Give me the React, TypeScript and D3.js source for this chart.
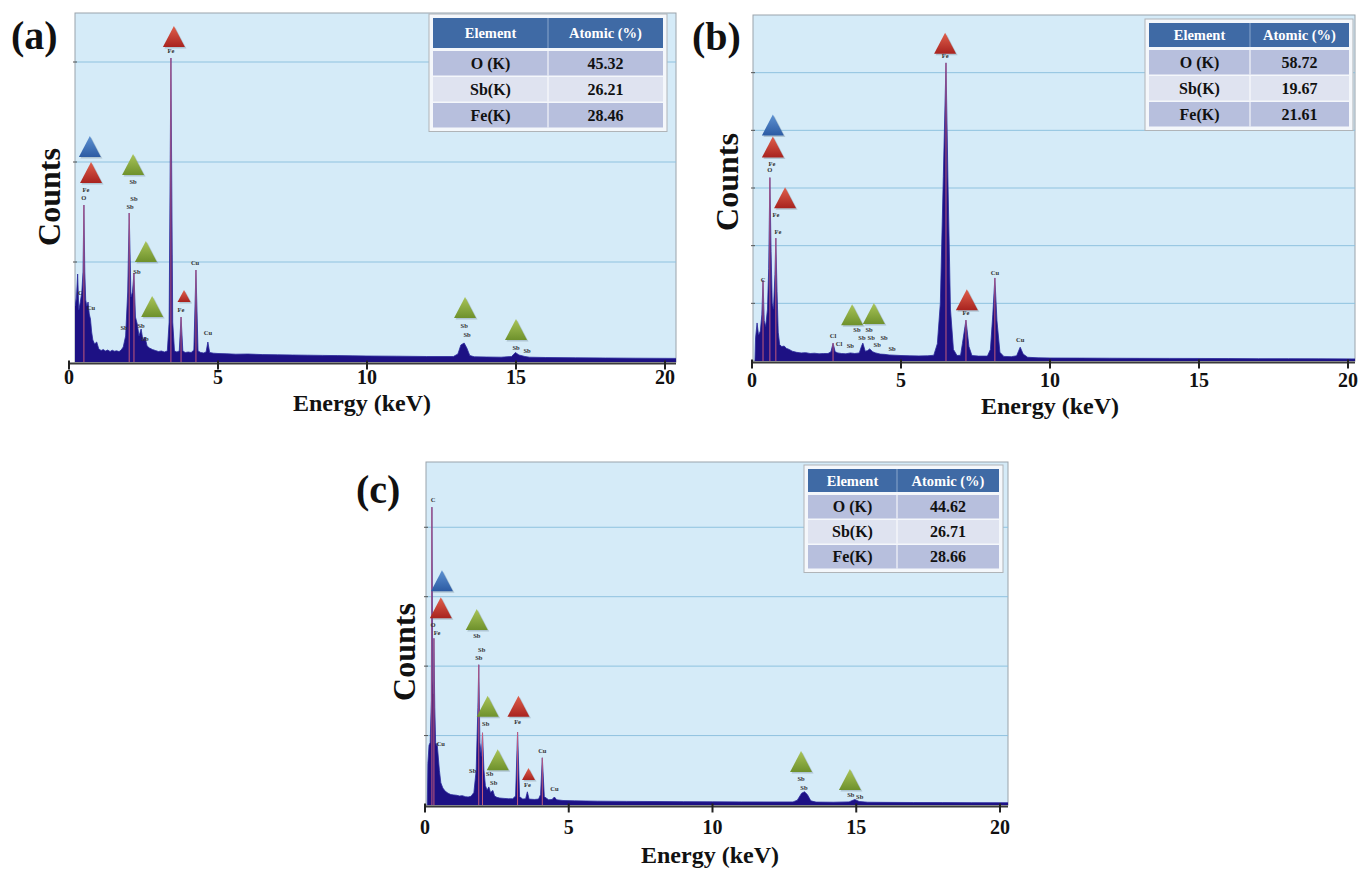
import React from "react";
import * as d3 from "d3";

// ---------------- DATA ----------------
const xTicks = [0, 5, 10, 15, 20];
const gridCountsA = [1000, 2000, 3000];
const gridCountsB = [1000, 2000, 3000, 4000, 5000];
const gridCountsC = [1000, 2000, 3000, 4000];

const tableHeaders = ["Element", "Atomic (%)"];
const elements = ["O (K)", "Sb(K)", "Fe(K)"];
const atomicA = [45.32, 26.21, 28.46];
const atomicB = [58.72, 19.67, 21.61];
const atomicC = [44.62, 26.71, 28.66];

// spectra: [energy keV, counts]
const specA: [number, number][] = [
  [0.12, 0], [0.14, 500], [0.18, 820], [0.21, 560], [0.25, 640], [0.29, 880], [0.33, 520], [0.38, 600], [0.43, 700], [0.47, 900],
  [0.5, 1570], [0.53, 900], [0.56, 620], [0.6, 560], [0.64, 600], [0.68, 480], [0.72, 430], [0.76, 300], [0.8, 220], [0.86, 180],
  [0.93, 200], [1.0, 130], [1.08, 115], [1.15, 125], [1.22, 110], [1.3, 120], [1.38, 105], [1.45, 118], [1.52, 108], [1.6, 112],
  [1.68, 104], [1.75, 120], [1.82, 150], [1.9, 260], [1.97, 700], [2.02, 1490], [2.08, 650], [2.13, 700], [2.18, 890], [2.23, 450],
  [2.29, 380], [2.35, 260], [2.42, 330], [2.48, 220], [2.55, 250], [2.62, 160], [2.7, 140], [2.8, 125], [2.9, 115], [3.0, 105],
  [3.1, 110], [3.2, 100], [3.3, 110], [3.36, 400], [3.42, 3040], [3.48, 400], [3.54, 110], [3.62, 100], [3.7, 110], [3.76, 450],
  [3.82, 110], [3.9, 95], [4.0, 100], [4.1, 95], [4.19, 120], [4.26, 920], [4.33, 110], [4.42, 95], [4.52, 90], [4.6, 100],
  [4.66, 200], [4.72, 95], [4.85, 88], [5.0, 85], [5.3, 82], [5.6, 78], [6.0, 80], [6.5, 74], [7.0, 72], [7.5, 70], [8.0, 68],
  [8.5, 66], [9.0, 64], [9.5, 62], [10, 60], [11, 58], [12, 55], [12.9, 55], [13.05, 80], [13.15, 170], [13.26, 190], [13.35, 140],
  [13.45, 65], [13.6, 52], [14, 50], [14.5, 48], [14.85, 55], [14.98, 95], [15.1, 70], [15.3, 55], [15.45, 48], [16, 45], [17, 42],
  [18, 40], [19, 38], [20.4, 36],
];

const specB: [number, number][] = [
  [0.1, 0], [0.12, 400], [0.17, 660], [0.22, 450], [0.28, 520], [0.33, 800], [0.37, 1400], [0.41, 700], [0.46, 600], [0.52, 900],
  [0.56, 1600], [0.6, 3180], [0.64, 1900], [0.68, 1000], [0.72, 900], [0.77, 1500], [0.8, 2130], [0.84, 1200], [0.88, 500], [0.93, 280],
  [1.0, 250], [1.08, 260], [1.15, 220], [1.25, 200], [1.35, 170], [1.5, 150], [1.65, 140], [1.8, 145], [1.95, 130], [2.1, 135],
  [2.25, 125], [2.4, 130], [2.55, 130], [2.65, 160], [2.72, 310], [2.79, 160], [2.88, 140], [3.0, 130], [3.15, 125], [3.3, 140],
  [3.45, 130], [3.6, 140], [3.67, 250], [3.72, 310], [3.8, 170], [3.88, 180], [3.95, 210], [4.05, 160], [4.15, 140], [4.3, 120],
  [4.45, 115], [4.6, 105], [4.8, 100], [5.0, 95], [5.3, 90], [5.6, 88], [5.9, 90], [6.1, 100], [6.22, 300], [6.32, 1000],
  [6.42, 3200], [6.51, 5170], [6.58, 3000], [6.66, 900], [6.76, 200], [6.88, 95], [7.0, 100], [7.06, 300], [7.18, 710], [7.28, 250],
  [7.38, 95], [7.6, 85], [7.9, 85], [8.0, 200], [8.08, 800], [8.15, 1440], [8.22, 700], [8.32, 150], [8.45, 80], [8.7, 75],
  [8.88, 90], [9.0, 240], [9.1, 120], [9.25, 65], [9.6, 55], [10, 52], [11, 50], [12, 48], [13, 46], [14, 45], [15, 44],
  [16, 42], [17, 40], [18, 40], [19, 38], [20.4, 36],
];

const specC: [number, number][] = [
  [0.08, 0], [0.1, 600], [0.14, 860], [0.18, 900], [0.22, 1500], [0.24, 4290], [0.27, 1800], [0.29, 1600], [0.31, 2400], [0.34, 1400],
  [0.37, 900], [0.4, 850], [0.42, 890], [0.45, 750], [0.5, 500], [0.55, 320], [0.62, 245], [0.7, 200], [0.8, 170], [0.9, 150],
  [1.0, 145], [1.1, 140], [1.2, 130], [1.3, 135], [1.4, 120], [1.5, 115], [1.6, 125], [1.7, 180], [1.78, 500], [1.84, 1400],
  [1.87, 2020], [1.91, 900], [1.96, 700], [2.0, 1040], [2.05, 500], [2.1, 280], [2.16, 215], [2.22, 260], [2.28, 180], [2.36, 210],
  [2.42, 130], [2.5, 110], [2.6, 100], [2.75, 95], [2.9, 90], [3.05, 90], [3.15, 130], [3.22, 1050], [3.29, 120], [3.4, 85],
  [3.5, 90], [3.56, 190], [3.62, 85], [3.8, 80], [3.95, 85], [4.02, 150], [4.08, 680], [4.15, 120], [4.3, 75], [4.42, 80],
  [4.5, 115], [4.58, 75], [4.8, 65], [5.2, 60], [6, 55], [7, 52], [8, 50], [9, 48], [10, 46], [11, 45], [12, 44], [12.8, 44],
  [12.95, 70], [13.1, 170], [13.2, 190], [13.3, 150], [13.42, 60], [13.6, 42], [14.2, 40], [14.75, 45], [14.95, 80], [15.1, 50],
  [15.4, 40], [16, 38], [17, 36], [18, 35], [19, 34], [20.4, 33],
];

// element marker lines (peak energies)
const markersA = [0.5, 2.02, 2.18, 3.42, 3.76, 4.26];
const markersB = [0.37, 0.6, 0.8, 2.72, 6.51, 7.18, 8.15];
const markersC = [0.24, 0.31, 1.87, 2.0, 3.22, 4.08];

// triangle markers: energy, counts at base, colour, small
type Tri = { e: number; c: number; col: "red" | "blue" | "green"; small?: boolean };
const trisA: Tri[] = [
  { e: 0.7, c: 2050, col: "blue" }, { e: 0.74, c: 1790, col: "red" }, { e: 2.15, c: 1870, col: "green" },
  { e: 2.58, c: 1000, col: "green" }, { e: 2.79, c: 450, col: "green" }, { e: 3.52, c: 3150, col: "red" },
  { e: 3.86, c: 600, col: "red", small: true }, { e: 13.29, c: 440, col: "green" }, { e: 15.0, c: 220, col: "green" },
];
const trisB: Tri[] = [
  { e: 0.7, c: 3910, col: "blue" }, { e: 0.7, c: 3530, col: "red" }, { e: 1.11, c: 2650, col: "red" },
  { e: 6.48, c: 5330, col: "red" }, { e: 7.21, c: 880, col: "red" }, { e: 3.36, c: 620, col: "green" },
  { e: 4.09, c: 640, col: "green" },
];
const trisC: Tri[] = [
  { e: 0.59, c: 3080, col: "blue" }, { e: 0.55, c: 2690, col: "red" }, { e: 1.8, c: 2520, col: "green" },
  { e: 2.18, c: 1270, col: "green" }, { e: 3.25, c: 1270, col: "red" }, { e: 2.53, c: 500, col: "green" },
  { e: 3.6, c: 360, col: "red", small: true }, { e: 13.08, c: 475, col: "green" }, { e: 14.78, c: 215, col: "green" },
];

// small peak labels: energy, counts, text
type Lab = { e: number; c: number; t: string };
const labsA: Lab[] = [
  { e: 0.57, c: 1700, t: "Fe" }, { e: 0.5, c: 1620, t: "O" }, { e: 0.38, c: 670, t: "C" }, { e: 0.74, c: 520, t: "Cu" },
  { e: 2.15, c: 1780, t: "Sb" }, { e: 2.18, c: 1610, t: "Sb" }, { e: 2.05, c: 1530, t: "Sb" }, { e: 2.28, c: 880, t: "Sb" },
  { e: 1.85, c: 320, t: "Sb" }, { e: 2.42, c: 340, t: "Sb" }, { e: 2.55, c: 210, t: "Sb" }, { e: 3.42, c: 3090, t: "Fe" },
  { e: 3.76, c: 500, t: "Fe" }, { e: 4.23, c: 970, t: "Cu" }, { e: 4.66, c: 270, t: "Cu" }, { e: 13.26, c: 340, t: "Sb" },
  { e: 13.36, c: 250, t: "Sb" }, { e: 15.0, c: 120, t: "Sb" }, { e: 15.37, c: 90, t: "Sb" },
];
const labsB: Lab[] = [
  { e: 0.67, c: 3390, t: "Fe" }, { e: 0.6, c: 3270, t: "O" }, { e: 0.8, c: 2490, t: "Fe" }, { e: 0.87, c: 2200, t: "Fe" },
  { e: 0.37, c: 1370, t: "C" }, { e: 6.48, c: 5260, t: "Fe" }, { e: 7.18, c: 800, t: "Fe" }, { e: 8.15, c: 1500, t: "Cu" },
  { e: 9.0, c: 330, t: "Cu" }, { e: 2.72, c: 400, t: "Cl" }, { e: 2.92, c: 260, t: "Cl" }, { e: 3.3, c: 225, t: "Sb" },
  { e: 3.52, c: 510, t: "Sb" }, { e: 3.93, c: 510, t: "Sb" }, { e: 3.69, c: 370, t: "Sb" }, { e: 4.0, c: 370, t: "Sb" },
  { e: 4.43, c: 370, t: "Sb" }, { e: 4.2, c: 235, t: "Sb" }, { e: 4.7, c: 180, t: "Sb" },
];
const labsC: Lab[] = [
  { e: 0.28, c: 4360, t: "C" }, { e: 0.28, c: 2560, t: "O" }, { e: 0.42, c: 2450, t: "Fe" }, { e: 0.55, c: 850, t: "Cu" },
  { e: 1.8, c: 2400, t: "Sb" }, { e: 1.97, c: 2200, t: "Sb" }, { e: 1.87, c: 2090, t: "Sb" }, { e: 2.11, c: 1140, t: "Sb" },
  { e: 3.22, c: 1170, t: "Fe" }, { e: 1.66, c: 460, t: "Sb" }, { e: 2.25, c: 420, t: "Sb" }, { e: 2.39, c: 290, t: "Sb" },
  { e: 3.56, c: 260, t: "Fe" }, { e: 4.08, c: 750, t: "Cu" }, { e: 4.5, c: 200, t: "Cu" }, { e: 13.08, c: 345, t: "Sb" },
  { e: 13.18, c: 215, t: "Sb" }, { e: 14.81, c: 115, t: "Sb" }, { e: 15.12, c: 85, t: "Sb" },
];

// ---------------- LAYOUT ----------------
const SERIF = "'Liberation Serif', 'Times New Roman', serif";

type Cfg = {
  id: string; letter: string;
  xr: [number, number]; left: number; right: number; top: number; base: number; yMax: number; axisY: number;
  grid: number[];
  table: { x: number; y: number; w: number; split: number; hh: number; rh: number; gap: number };
  letterPos: [number, number]; countsPos: [number, number]; energyPos: [number, number]; tickLabelY: number;
};

const cfgA: Cfg = {
  id: "a", letter: "(a)", xr: [69, 665], left: 75, right: 676, top: 13, base: 362, yMax: 3490, axisY: 363.5, grid: gridCountsA,
  table: { x: 433, y: 18, w: 230, split: 115, hh: 30, rh: 24.5, gap: 1.5 },
  letterPos: [11, 49], countsPos: [60, 197], energyPos: [362, 411], tickLabelY: 384,
};
const cfgB: Cfg = {
  id: "b", letter: "(b)", xr: [752, 1348], left: 753, right: 1355, top: 15, base: 361, yMax: 6000, axisY: 362.5, grid: gridCountsB,
  table: { x: 1149, y: 23, w: 200, split: 101, hh: 24, rh: 24.5, gap: 1.5 },
  letterPos: [692, 50], countsPos: [738, 182], energyPos: [1050, 414], tickLabelY: 387,
};
const cfgC: Cfg = {
  id: "c", letter: "(c)", xr: [425, 1000], left: 426, right: 1008, top: 462, base: 805, yMax: 4940, axisY: 806.5, grid: gridCountsC,
  table: { x: 808, y: 469, w: 191, split: 89, hh: 23, rh: 23.5, gap: 1.5 },
  letterPos: [356, 503], countsPos: [415, 652], energyPos: [710, 863], tickLabelY: 834,
};

const triFill: Record<string, string> = { red: "url(#gRed)", blue: "url(#gBlue)", green: "url(#gGreen)" };

function Panel({ cfg, spec, tris, labs, markers, atomic }: {
  cfg: Cfg; spec: [number, number][]; tris: Tri[]; labs: Lab[]; markers: number[]; atomic: number[];
}) {
  const x = d3.scaleLinear().domain([0, 20]).range(cfg.xr);
  const y = d3.scaleLinear().domain([0, cfg.yMax]).range([cfg.base, cfg.top]);
  const area = d3.area<[number, number]>().x((d) => x(d[0])).y0(cfg.base).y1((d) => y(d[1]));
  const line = d3.line<[number, number]>().x((d) => x(d[0])).y((d) => y(d[1]));
  const clipId = "clip-" + cfg.id;
  const t = cfg.table;
  const rowsY = elements.map((_, i) => t.y + t.hh + t.gap * 2 + i * (t.rh + t.gap));
  const rowColors = ["#b7bfdd", "#dfe3f0", "#b7bfdd"];
  return (
    <g>
      <defs>
        <clipPath id={clipId}>
          <rect x={cfg.left} y={cfg.top} width={cfg.right - cfg.left} height={cfg.base - cfg.top + 1} />
        </clipPath>
      </defs>
      {/* plot background */}
      <rect x={cfg.left} y={cfg.top} width={cfg.right - cfg.left} height={cfg.base - cfg.top} fill="#d5ebf8" stroke="#9aa3ab" strokeWidth={1} />
      {cfg.grid.map((g) => (
        <line key={g} x1={cfg.left} x2={cfg.right} y1={y(g)} y2={y(g)} stroke="#8fc2df" strokeWidth={1} />
      ))}
      {cfg.grid.map((g) => (
        <line key={"t" + g} x1={cfg.left - 2} x2={cfg.left + 2} y1={y(g)} y2={y(g)} stroke="#555" strokeWidth={1} />
      ))}
      {/* table */}
      <rect x={t.x - 4} y={t.y - 4} width={t.w + 8} height={rowsY[2] + t.rh - t.y + 8} fill="#f4f7fb" stroke="#b0b4b8" strokeWidth={1} />
      <rect x={t.x} y={t.y} width={t.w} height={t.hh} fill="#3f6aa5" />
      <line x1={t.x + t.split} x2={t.x + t.split} y1={t.y} y2={t.y + t.hh} stroke="#8aa6cc" strokeWidth={1} />
      {tableHeaders.map((h, i) => (
        <text key={h} x={i === 0 ? t.x + t.split / 2 : t.x + t.split + (t.w - t.split) / 2} y={t.y + t.hh / 2 + 5}
          textAnchor="middle" fill="#ffffff" fontFamily={SERIF} fontWeight="bold" fontSize={14.5}>{h}</text>
      ))}
      {elements.map((el, i) => (
        <g key={el}>
          <rect x={t.x} y={rowsY[i]} width={t.w} height={t.rh} fill={rowColors[i]} />
          <line x1={t.x + t.split} x2={t.x + t.split} y1={rowsY[i]} y2={rowsY[i] + t.rh} stroke="#ffffff" strokeWidth={1} />
          <text x={t.x + t.split / 2} y={rowsY[i] + t.rh / 2 + 5.5} textAnchor="middle" fontFamily={SERIF} fontWeight="bold" fontSize={16} fill="#111">{el}</text>
          <text x={t.x + t.split + (t.w - t.split) / 2} y={rowsY[i] + t.rh / 2 + 5.5} textAnchor="middle" fontFamily={SERIF} fontWeight="bold" fontSize={16} fill="#111">{atomic[i].toFixed(2)}</text>
        </g>
      ))}
      {/* spectrum */}
      <g clipPath={`url(#${clipId})`}>
        <path d={area(spec) || ""} fill="#1d1184" />
        <path d={line(spec) || ""} fill="none" stroke="#2b2a9c" strokeWidth={0.8} />
        {markers.map((m) => {
          const p = spec.find((d) => d[0] === m);
          const c = p ? p[1] : 0;
          return <line key={m} x1={x(m)} x2={x(m)} y1={cfg.base} y2={y(c)} stroke="#e0667a" strokeWidth={1} opacity={0.85} />;
        })}
      </g>
      {/* triangles */}
      {tris.map((tr, i) => {
        const w = tr.small ? 13 : 22;
        const h = tr.small ? 12 : 21;
        const cx = x(tr.e);
        const by = y(tr.c);
        return (
          <g key={i}>
            <polygon points={`${cx - w / 2 + 1.5},${by + 1.5} ${cx + w / 2 + 1.5},${by + 1.5} ${cx + 1.5},${by - h + 1.5}`} fill="#6b7f8f" opacity={0.35} />
            <polygon points={`${cx - w / 2},${by} ${cx + w / 2},${by} ${cx},${by - h}`} fill={triFill[tr.col]} />
          </g>
        );
      })}
      {/* small labels */}
      {labs.map((l, i) => (
        <text key={i} x={x(l.e)} y={y(l.c)} textAnchor="middle" fontFamily={SERIF} fontWeight="bold" fontSize={6.5} fill="#333">{l.t}</text>
      ))}
      {/* x axis */}
      <line x1={x(0) - 1} x2={cfg.right} y1={cfg.axisY} y2={cfg.axisY} stroke="#3a3a3a" strokeWidth={2.2} />
      {xTicks.map((v) => (
        <g key={v}>
          <line x1={x(v)} x2={x(v)} y1={cfg.axisY - 3} y2={cfg.axisY + 6} stroke="#222" strokeWidth={2} />
          <text x={x(v)} y={cfg.tickLabelY} textAnchor="middle" fontFamily={SERIF} fontWeight="bold" fontSize={20} fill="#111">{v}</text>
        </g>
      ))}
      <text x={cfg.energyPos[0]} y={cfg.energyPos[1]} textAnchor="middle" fontFamily={SERIF} fontWeight="bold" fontSize={24} fill="#111">Energy (keV)</text>
      <text transform={`translate(${cfg.countsPos[0]},${cfg.countsPos[1]}) rotate(-90)`} textAnchor="middle" fontFamily={SERIF} fontWeight="bold" fontSize={32} fill="#111">Counts</text>
      <text x={cfg.letterPos[0]} y={cfg.letterPos[1]} fontFamily={SERIF} fontWeight="bold" fontSize={40} fill="#111">{cfg.letter}</text>
    </g>
  );
}

export default function App() {
  return (
    <svg width={1358} height={869} style={{ position: "absolute", left: 0, top: 0, background: "#ffffff" }}>
      <defs>
        <linearGradient id="gRed" x1="0" y1="0" x2="0" y2="1">
          <stop offset="0%" stopColor="#e0604c" />
          <stop offset="100%" stopColor="#a8231f" />
        </linearGradient>
        <linearGradient id="gBlue" x1="0" y1="0" x2="0" y2="1">
          <stop offset="0%" stopColor="#5e92d2" />
          <stop offset="100%" stopColor="#2c5ba3" />
        </linearGradient>
        <linearGradient id="gGreen" x1="0" y1="0" x2="0" y2="1">
          <stop offset="0%" stopColor="#a9c458" />
          <stop offset="100%" stopColor="#6e912c" />
        </linearGradient>
      </defs>
      <rect x={0} y={0} width={1358} height={869} fill="#ffffff" />
      <Panel cfg={cfgA} spec={specA} tris={trisA} labs={labsA} markers={markersA} atomic={atomicA} />
      <Panel cfg={cfgB} spec={specB} tris={trisB} labs={labsB} markers={markersB} atomic={atomicB} />
      <Panel cfg={cfgC} spec={specC} tris={trisC} labs={labsC} markers={markersC} atomic={atomicC} />
    </svg>
  );
}
